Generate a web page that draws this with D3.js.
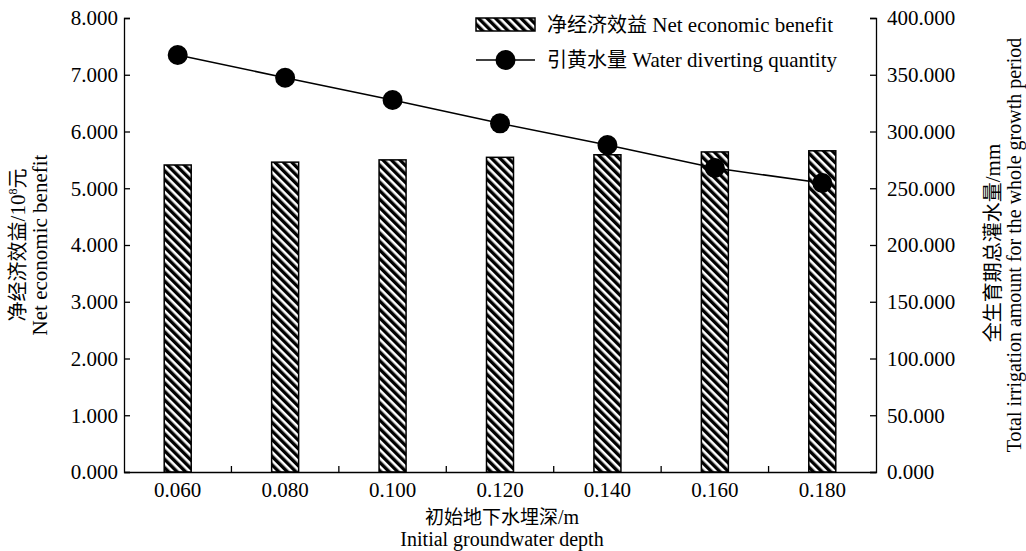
<!DOCTYPE html>
<html>
<head>
  <meta charset="utf-8">
  <title>Net economic benefit and water diverting quantity</title>
  <script src="https://d3js.org/d3.v7.min.js" charset="utf-8"></script>
  <style>
  body {margin: 0; background: #fff;}
  </style>
</head>
<body>
<script>
// chart values
const depths = ["0.060", "0.080", "0.100", "0.120", "0.140", "0.160", "0.180"];
const benefit = [5.41, 5.46, 5.50, 5.545, 5.59, 5.64, 5.66];
const water = [367.4, 347.4, 327.8, 307.2, 288.1, 267.8, 254.6];
const leftTicks = [0, 1, 2, 3, 4, 5, 6, 7, 8];
const rightTicks = [0, 50, 100, 150, 200, 250, 300, 350, 400];

const width = 1026, height = 551;
const plot = {left: 124, right: 876, top: 18, bottom: 472};
const SERIF = "Liberation Serif";
const CJK = "Noto Sans CJK SC";

const svg = d3.select("body").append("svg")
  .attr("width", width)
  .attr("height", height);

// hatch for the bars
const defs = svg.append("defs");
defs.append("pattern")
  .attr("id", "hatch")
  .attr("patternUnits", "userSpaceOnUse")
  .attr("width", 6)
  .attr("height", 6)
  .attr("patternTransform", "rotate(-45)")
  .call(p => {
    p.append("rect").attr("width", 6).attr("height", 6).attr("fill", "#fff");
    p.append("rect").attr("width", 3.4).attr("height", 6).attr("fill", "#000");
  });

const x = d3.scaleBand().domain(depths).range([plot.left, plot.right]).padding(0);
const yL = d3.scaleLinear().domain([0, 8]).range([plot.bottom, plot.top]);
const yR = d3.scaleLinear().domain([0, 400]).range([plot.bottom, plot.top]);
const cx = (i) => x(depths[i]) + x.bandwidth() / 2;

// bars
const barW = 27;
svg.selectAll("rect.bar")
  .data(benefit)
  .join("rect")
  .attr("class", "bar")
  .attr("x", (d, i) => cx(i) - barW / 2)
  .attr("y", d => yL(d))
  .attr("width", barW)
  .attr("height", d => yL(0) - yL(d))
  .attr("fill", "url(#hatch)")
  .attr("stroke", "#000")
  .attr("stroke-width", 1.5);

// line + markers
const line = d3.line()
  .x((d, i) => cx(i))
  .y(d => yR(d));
svg.append("path")
  .datum(water)
  .attr("d", line)
  .attr("fill", "none")
  .attr("stroke", "#000")
  .attr("stroke-width", 1.5);
svg.selectAll("circle.pt")
  .data(water)
  .join("circle")
  .attr("class", "pt")
  .attr("cx", (d, i) => cx(i))
  .attr("cy", d => yR(d))
  .attr("r", 10)
  .attr("fill", "#000");

// axes
const leftAxis = svg.append("g")
  .attr("transform", `translate(${plot.left},0)`)
  .call(d3.axisRight(yL).tickValues(leftTicks).tickSize(6).tickFormat(d3.format(".3f")));
leftAxis.selectAll("text").attr("x", -6).attr("text-anchor", "end");

const rightAxis = svg.append("g")
  .attr("transform", `translate(${plot.right},0)`)
  .call(d3.axisLeft(yR).tickValues(rightTicks).tickSize(6).tickFormat(d3.format(".3f")));
rightAxis.selectAll("text").attr("x", 11).attr("text-anchor", "start");

const bottomAxis = svg.append("g")
  .attr("transform", `translate(0,${plot.bottom})`)
  .call(d3.axisTop(x).tickSize(0));
bottomAxis.selectAll("text").attr("y", 25).attr("dy", "0");
// small inward ticks between categories
bottomAxis.selectAll("line.sep")
  .data(depths.slice(1))
  .join("line")
  .attr("class", "sep")
  .attr("x1", d => x(d)).attr("x2", d => x(d))
  .attr("y1", 0).attr("y2", -6)
  .attr("stroke", "#000");

[leftAxis, rightAxis, bottomAxis].forEach(g => {
  g.attr("font-family", SERIF).attr("font-size", 21);
  g.select(".domain").attr("stroke", "#000").attr("stroke-width", 1.3);
  g.selectAll(".tick line").attr("stroke", "#000").attr("stroke-width", 1.3);
  g.selectAll("line.sep").attr("stroke-width", 1.3);
  g.selectAll("text").attr("fill", "#000");
});
leftAxis.selectAll(".tick text").attr("dy", "0.33em");
rightAxis.selectAll(".tick text").attr("dy", "0.33em");

// text helper: parts are [string, isCJK, tweak]
function mixed(sel, parts, size) {
  size = size || 21;
  parts.forEach(([s, cjk, extra]) => {
    const t = sel.append("tspan")
      .attr("font-family", cjk ? CJK : SERIF)
      .attr("font-size", cjk ? size - 1 : size)
      .text(s);
    if (extra) extra(t);
  });
  return sel;
}

// axis titles
mixed(svg.append("text").attr("x", 502).attr("y", 524).attr("text-anchor", "middle").attr("fill", "#000"),
  [["初始地下水埋深", true], ["/m", false]], 20);
mixed(svg.append("text").attr("x", 502).attr("y", 546).attr("text-anchor", "middle").attr("fill", "#000"),
  [["Initial groundwater depth", false]], 20);

mixed(svg.append("text").attr("transform", "translate(25,245) rotate(-90)").attr("text-anchor", "middle"),
  [["净经济效益", true], ["/10", false],
   ["8", false, t => t.attr("font-size", 12).attr("dy", -8)],
   ["元", true, t => t.attr("dy", 8)]]);
mixed(svg.append("text").attr("transform", "translate(47,245) rotate(-90)").attr("text-anchor", "middle"),
  [["Net economic benefit", false]]);

mixed(svg.append("text").attr("transform", "translate(1000,243) rotate(-90)").attr("text-anchor", "middle"),
  [["全生育期总灌水量", true], ["/mm", false]]);
mixed(svg.append("text").attr("transform", "translate(1021,245) rotate(-90)").attr("text-anchor", "middle"),
  [["Total irrigation amount for the whole growth period", false]], 20);

// legend
const legend = svg.append("g").attr("transform", "translate(476,18)");
legend.append("rect")
  .attr("width", 59).attr("height", 13)
  .attr("fill", "url(#hatch)")
  .attr("stroke", "#000").attr("stroke-width", 1.5);
mixed(legend.append("text").attr("x", 71).attr("y", 14),
  [["净经济效益", true], [" Net economic benefit", false]]);
legend.append("line")
  .attr("x1", 0).attr("x2", 59).attr("y1", 42).attr("y2", 42)
  .attr("stroke", "#000").attr("stroke-width", 1.5);
legend.append("circle")
  .attr("cx", 29.5).attr("cy", 42).attr("r", 10).attr("fill", "#000");
mixed(legend.append("text").attr("x", 71).attr("y", 49),
  [["引黄水量", true], [" Water diverting quantity", false]]);
</script>
</body>
</html>
